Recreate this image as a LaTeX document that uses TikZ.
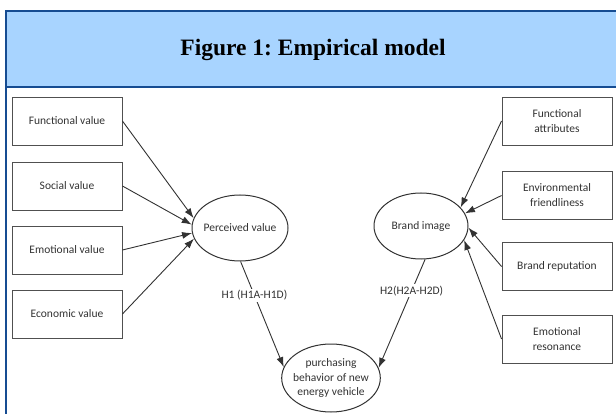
\documentclass[tikz,border=0pt]{standalone}
\usepackage{fontspec}
\setmainfont{Carlito}
\newfontfamily\titlefont{Liberation Serif}
\usetikzlibrary{shapes.geometric, arrows.meta, positioning}
\definecolor{frameblue}{RGB}{22, 76, 146}
\definecolor{headblue}{RGB}{168, 212, 255}
\definecolor{inkgray}{RGB}{50, 50, 50}
\definecolor{boxgray}{RGB}{80, 80, 80}
\tikzset{
  varbox/.style={draw=boxgray, line width=0.9pt, minimum width=110pt, minimum height=48pt,
    inner sep=0pt, align=center, text=inkgray, font=\fontsize{11.5}{15}\selectfont},
  latent/.style={ellipse, draw=inkgray, line width=1pt, inner xsep=-3pt, inner ysep=0pt,
    align=center, text=inkgray, font=\fontsize{11.5}{14.5}\selectfont},
  link/.style={draw=inkgray, line width=0.9pt, -{Latex[length=10pt, width=7pt]}},
  hyplabel/.style={fill=white, inner sep=1.5pt, text=inkgray, font=\fontsize{11.5}{14}\selectfont}
}

\begin{document}
\begin{tikzpicture}[x=1pt, y=-1pt]
    \useasboundingbox (0,0) rectangle (616,414);

    % Header band and frame
    \fill[headblue] (6,11) rectangle (630,87);
    \draw[frameblue, line width=2.5pt] (6,87) -- (630,87);
    \draw[frameblue, line width=2.5pt] (630,11) -- (6,11) -- (6,430);
    \node[anchor=base, font=\titlefont\bfseries\fontsize{23.5}{28}\selectfont] (title) at (313,56) {\frenchspacing Figure 1: Empirical model};

    % Latent variables
    \node[latent, minimum width=96pt, minimum height=66pt] (pv) at (240,228) {Perceived value};
    \node[latent, minimum width=94pt, minimum height=66pt] (bi) at (421,226) {Brand image};
    \node[latent, minimum width=98pt, minimum height=68pt] (pb) at (331,378) {purchasing\\behavior of new\\energy vehicle};

    % Dimensions of perceived value
    \foreach \name/\txt/\y in {fv/Functional value/121, sv/Social value/186, emv/Emotional value/250, ecv/Economic value/314} {
        \node[varbox] (\name) at (67,\y) {\txt};
    }
    \foreach \name/\ang in {fv/168, sv/176, emv/186, ecv/193} {
        \draw[link] (\name.east) -- (pv.\ang);
    }

    % Dimensions of brand image
    \foreach \name/\txt/\y in {fa/{Functional\\attributes}/121, ef/{Environmental\\friendliness}/195.5, br/{Brand reputation}/266.5, er/{Emotional\\resonance}/339} {
        \node[varbox] (\name) at (557,\y) {\txt};
    }
    \foreach \name/\ang in {fa/25, ef/16, br/-2, er/-18} {
        \draw[link] (\name.west) -- (bi.\ang);
    }

    % Hypotheses
    \draw[link] (pv.271) -- node[hyplabel, pos=0.32] (h1) {H1 (H1A-H1D)} (pb.167);
    \draw[link] (bi.277) -- node[hyplabel, pos=0.29] (h2) {H2(H2A-H2D)} (pb.12);
\end{tikzpicture}
\end{document}
